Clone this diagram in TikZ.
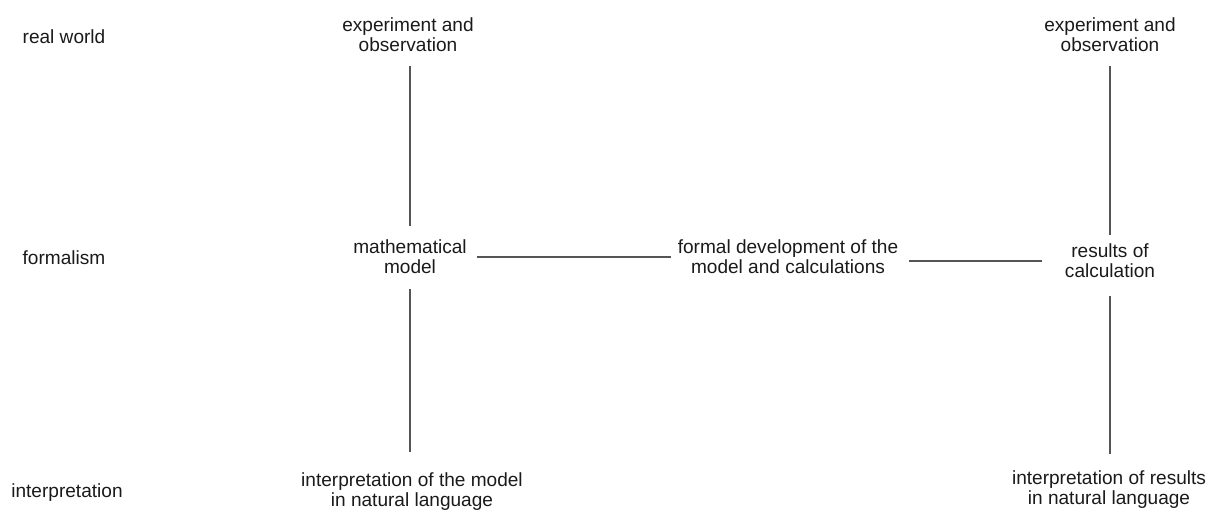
\documentclass[tikz,border=0pt]{standalone}
\usepackage{fontspec}
\setmainfont{Liberation Sans}
\usetikzlibrary{positioning, calc}
\definecolor{inkblack}{HTML}{1A1A1A}
\definecolor{linegray}{HTML}{555555}

\begin{document}
\begin{tikzpicture}[x=0.75pt, y=-0.75pt,
  lbl/.style={text=inkblack, font=\fontsize{14.3}{15}\selectfont, align=center, inner sep=0pt},
  link/.style={draw=linegray, line width=1.1pt}]

% Canvas
\useasboundingbox (0,0) rectangle (1209,512);

% Row labels
\node[lbl] (realw) at (64,37) {real world};
\node[lbl] (formw) at (64,258) {formalism};
\node[lbl] (interw) at (67,493) {interpretation};

% =========== LEFT COLUMN ===========
\node[lbl] (expl) at (408,35) {experiment and\\observation};
\node[lbl] (math) at (410,257) {mathematical\\model};
\node[lbl] (intl) at (412,492) {interpretation of the model\\in natural language};

% =========== MIDDLE ===========
\node[lbl] (formal) at (788,257) {formal development of the\\model and calculations};

% =========== RIGHT COLUMN ===========
\node[lbl] (expr) at (1110,35) {experiment and\\observation};
\node[lbl] (results) at (1110,261) {results of\\calculation};
\node[lbl] (intr) at (1109,490) {interpretation of results\\in natural language};

% Vertical connectors
\draw[link, shorten <=10.5pt, shorten >=10.5pt] (expl.south -| math) -- (math);
\draw[link, shorten <=11pt, shorten >=15.5pt] (math) -- (math |- intl.north);
\draw[link, shorten <=10.5pt, shorten >=6.5pt] (expr.south -| results) -- (results);
\draw[link, shorten <=13.5pt, shorten >=13pt] (results) -- (results |- intr.north);

% Horizontal connectors
\draw[link, shorten <=7.5pt, shorten >=5pt] (math) -- (formal);
\draw[link, shorten <=8pt, shorten >=17pt] (formal.east |- results) -- (results);

\end{tikzpicture}
\end{document}
